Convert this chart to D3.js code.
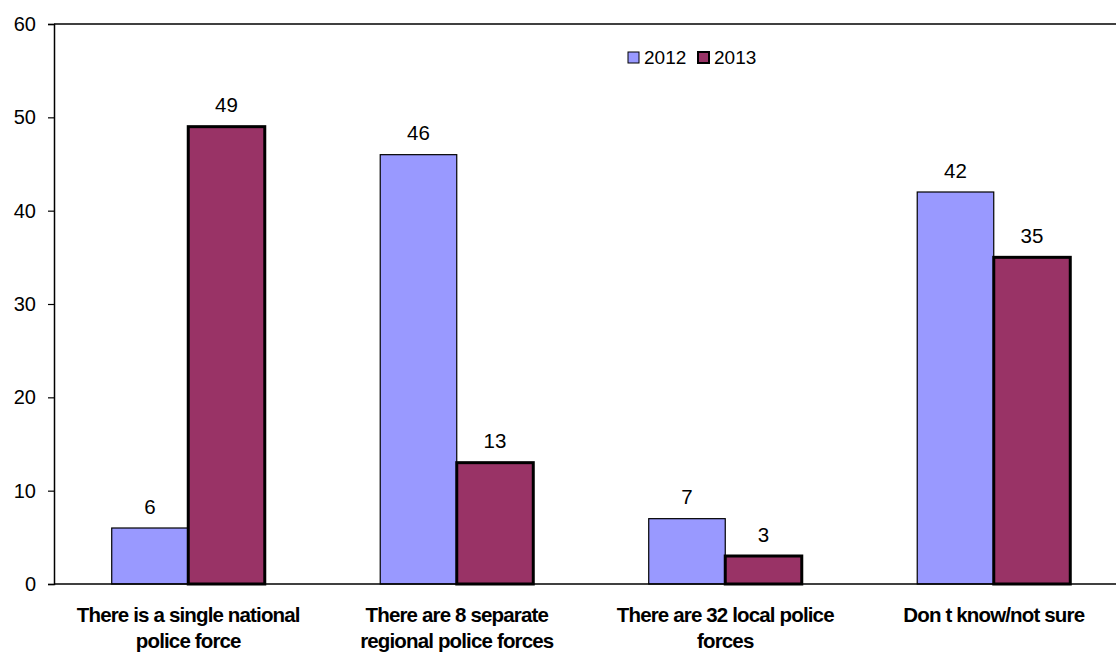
<!DOCTYPE html>
<html><head><meta charset="utf-8">
<script src="https://cdn.jsdelivr.net/npm/d3@7"></script>
<style>body{margin:0;background:#fff;} svg{display:block;}</style>
</head><body>
<script>
const categories = [
  ["There is a single national", "police force"],
  ["There are 8 separate", "regional police forces"],
  ["There are 32 local police", "forces"],
  ["Don t know/not sure"]
];
const seriesNames = ["2012", "2013"];
const values2012 = [6, 46, 7, 42];
const values2013 = [49, 13, 3, 35];
const yTicks = [0, 10, 20, 30, 40, 50, 60];
const colors = ["#9999FF", "#993366"];
const strokeW = [1.2, 3];

const W = 1116, H = 657;
const FONT = "Liberation Sans, Arial, sans-serif";
const svg = d3.select("body").append("svg").attr("width", W).attr("height", H);
const mLeft = 54, mRight = 1128, mTop = 24, mBottom = 584;

const x = d3.scaleBand().domain(d3.range(categories.length)).range([mLeft, mRight]).paddingInner(0.43).paddingOuter(0.215);
const xs = d3.scaleBand().domain([0, 1]).range([0, x.bandwidth()]);
const y = d3.scaleLinear().domain([0, 60]).range([mBottom, mTop]);

// frame top line
svg.append("line").attr("x1", mLeft).attr("x2", W).attr("y1", y(60)).attr("y2", y(60)).attr("stroke", "#000").attr("stroke-width", 1.5);

// y axis
const yAxis = d3.axisLeft(y).tickValues(yTicks).tickSize(6).tickPadding(12);
const gy = svg.append("g").attr("transform", `translate(${mLeft},0)`).call(yAxis);
gy.select(".domain").attr("stroke", "#000").attr("stroke-width", 1.5);
gy.selectAll(".tick line").attr("stroke", "#000").attr("stroke-width", 1.2);
gy.selectAll(".tick text").attr("font-family", FONT).attr("font-size", 20).attr("fill", "#000");

const series = [values2012, values2013];
series.forEach((vals, si) => {
  const g = svg.append("g");
  g.selectAll("rect").data(vals).join("rect")
    .attr("x", (d, i) => x(i) + xs(si))
    .attr("y", d => y(d))
    .attr("width", xs.bandwidth())
    .attr("height", d => y(0) - y(d))
    .attr("fill", colors[si])
    .attr("stroke", "#000")
    .attr("stroke-width", strokeW[si]);
  g.selectAll("text").data(vals).join("text")
    .attr("x", (d, i) => x(i) + xs(si) + xs.bandwidth() / 2)
    .attr("y", d => y(d) - 14.5)
    .attr("text-anchor", "middle")
    .attr("font-family", FONT)
    .attr("font-size", 20.5)
    .text(d => d);
});

// x axis line
svg.append("line").attr("x1", mLeft).attr("x2", W).attr("y1", y(0)).attr("y2", y(0)).attr("stroke", "#000").attr("stroke-width", 1.5);

// category labels
categories.forEach((lines, i) => {
  const cx = x(i) + x.bandwidth() / 2;
  const t = svg.append("text")
    .attr("x", cx)
    .attr("y", 622)
    .attr("text-anchor", "middle")
    .attr("font-family", FONT)
    .attr("font-weight", "bold")
    .attr("font-size", 20.5)
    .attr("letter-spacing", -0.85);
  lines.forEach((l, li) => t.append("tspan").attr("x", cx).attr("dy", li === 0 ? 0 : 26).text(l));
});

// legend
const legend = svg.append("g").attr("transform", "translate(628,52)");
const legX = [0, 70];
seriesNames.forEach((n, i) => {
  legend.append("rect").attr("x", legX[i]).attr("y", 0).attr("width", 11).attr("height", 11)
    .attr("fill", colors[i]).attr("stroke", "#000").attr("stroke-width", i === 0 ? 1 : 2);
  legend.append("text").attr("x", legX[i] + 16).attr("y", 12)
    .attr("font-family", FONT).attr("font-size", 19).text(n);
});
</script>
</body></html>
